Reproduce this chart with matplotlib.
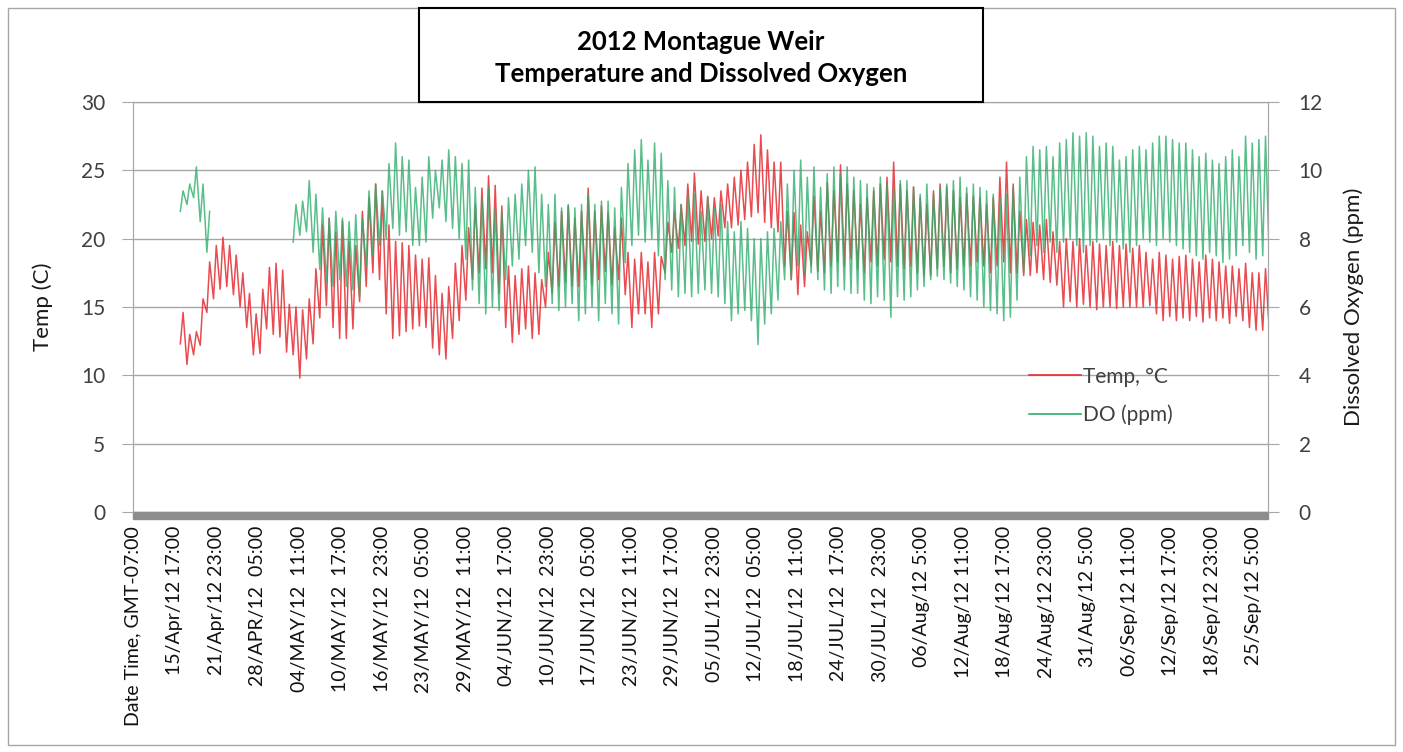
import numpy as np
import matplotlib
matplotlib.use('Agg')
import matplotlib.pyplot as plt
from matplotlib.patches import Rectangle

# daily highs / lows, day 0 = 15/Apr/12 (one value per day)
temp_high = [
    14.6, 13.0, 13.2, 15.6, 18.3, 19.5, 20.1, 19.5, 18.8, 17.5,
    16.0, 14.5, 16.3, 17.9, 18.2, 17.7, 15.2, 15.0, 14.8, 15.6,
    17.8, 21.0, 21.5, 20.5, 21.3, 19.8, 19.5, 22.0, 23.0, 24.0,
    23.5, 21.0, 19.8, 19.7, 19.5, 18.8, 18.5, 18.6, 17.3, 16.0,
    16.5, 18.2, 19.5, 20.8, 22.5, 23.7, 24.6, 23.9, 22.4, 18.0,
    17.3, 17.8, 18.0, 17.5, 17.0, 19.0, 21.2, 22.0, 22.4, 21.5,
    22.0, 23.7, 22.0, 22.4, 21.9, 20.8, 21.5, 19.0, 18.5, 19.0,
    18.3, 19.0, 18.7, 21.2, 22.0, 22.5, 24.0, 24.8, 23.5, 23.1,
    23.0, 23.5, 24.0, 24.5, 25.0, 25.6, 26.9, 27.6, 26.5, 25.6,
    25.6, 22.0, 21.9, 21.0, 20.5, 23.1, 22.0, 24.1, 23.5, 25.4,
    24.0, 23.5, 22.5, 23.0, 23.5, 24.0, 24.5, 25.6, 24.0, 23.5,
    23.8, 23.0, 22.5, 23.5, 24.0, 23.8, 23.5, 23.0, 23.3, 23.1,
    23.0, 22.5, 23.0, 24.5, 25.6, 24.0, 22.0, 21.4, 21.2, 21.0,
    21.4, 20.5, 19.8, 20.0, 19.8, 20.0, 19.5, 19.8, 19.6, 19.5,
    19.8, 19.5, 19.6, 19.3, 19.5, 19.0, 18.5, 19.0, 18.8, 18.5,
    18.7, 18.8, 18.5, 18.3, 18.8, 18.5, 18.3, 18.0, 18.0, 17.8,
    18.2, 17.5, 17.5, 17.8, 17.3]
temp_low = [
    12.3, 10.8, 11.5, 12.2, 14.6, 15.6, 16.3, 16.5, 15.9, 15.0,
    13.5, 11.5, 11.6, 13.4, 13.0, 12.8, 11.7, 11.5, 9.8, 11.2,
    12.3, 14.2, 15.1, 13.5, 12.7, 12.7, 13.4, 15.4, 16.5, 17.5,
    17.0, 14.5, 12.7, 12.9, 13.2, 13.4, 13.6, 13.5, 12.0, 11.5,
    11.2, 12.7, 14.0, 15.5, 17.0, 17.5, 17.8, 17.5, 16.0, 13.5,
    12.4, 13.0, 13.4, 12.7, 13.0, 15.0, 16.0, 16.5, 16.8, 16.5,
    16.5, 17.0, 16.6, 17.0, 17.6, 16.6, 17.0, 15.9, 13.5, 14.5,
    14.5, 13.5, 14.5, 17.5, 19.0, 19.3, 19.5, 19.8, 19.6, 19.8,
    20.0, 20.2, 20.8, 20.8, 21.0, 21.4, 21.6, 21.9, 21.2, 20.8,
    20.5, 18.0, 17.0, 15.9, 16.5, 18.0, 17.6, 17.5, 18.0, 18.3,
    18.0, 18.5, 17.8, 17.5, 18.3, 18.0, 18.5, 18.3, 18.0, 17.8,
    18.0, 17.5, 17.3, 17.3, 17.8, 18.0, 17.5, 17.8, 18.0, 18.0,
    18.3, 18.0, 17.5, 18.0, 18.3, 17.5, 17.5, 17.3, 17.3, 17.5,
    17.0, 16.8, 16.6, 15.0, 15.4, 15.0, 15.2, 15.0, 14.8, 15.0,
    15.0, 14.9, 15.0, 15.0, 15.0, 15.0, 15.1, 14.5, 14.0, 14.3,
    14.0, 14.2, 14.0, 14.3, 13.9, 14.2, 14.0, 14.2, 13.8, 14.3,
    14.0, 13.5, 13.3, 13.3, 13.2]
do_high = [
    9.4, 9.6, 10.1, 9.6, 8.8, None, None, None, None, None,
    None, None, None, None, None, None, None, 9.0, 9.1, 9.7,
    9.3, 8.9, 8.6, 8.8, 8.6, 8.5, 8.7, 8.6, 9.4, 9.6,
    9.4, 10.2, 10.8, 10.4, 10.3, 9.5, 9.8, 10.4, 10.0, 10.3,
    10.6, 10.4, 10.2, 10.3, 9.5, 9.2, 9.5, 8.9, 8.8, 9.2,
    9.3, 9.6, 10.0, 10.1, 9.3, 9.0, 9.3, 8.9, 9.0, 8.9,
    9.0, 9.3, 9.0, 9.1, 9.1, 8.9, 9.5, 10.2, 10.6, 10.9,
    10.3, 10.8, 10.5, 9.7, 9.5, 9.0, 9.3, 9.3, 8.8, 9.2,
    8.9, 9.0, 8.5, 8.2, 8.5, 8.3, 8.0, 8.0, 8.2, 8.3,
    8.5, 9.6, 10.0, 10.3, 9.8, 10.1, 9.5, 9.9, 10.1, 9.9,
    10.1, 9.8, 9.7, 9.6, 9.5, 9.8, 9.6, 9.5, 9.7, 9.7,
    9.5, 9.3, 9.6, 9.3, 9.5, 9.6, 9.7, 9.8, 9.5, 9.6,
    9.5, 9.4, 9.3, 9.2, 9.3, 9.5, 9.8, 10.4, 10.7, 10.6,
    10.7, 10.4, 10.8, 10.9, 11.1, 11.0, 11.1, 11.0, 10.7, 10.8,
    10.7, 10.3, 10.4, 10.6, 10.7, 10.6, 10.8, 11.0, 11.0, 10.9,
    10.8, 10.8, 10.6, 10.4, 10.5, 10.3, 10.2, 10.4, 10.6, 10.4,
    11.0, 10.8, 10.9, 11.0, 10.6]
do_low = [
    8.8, 9.0, 9.2, 8.5, 7.6, None, None, None, None, None,
    None, None, None, None, None, None, None, 7.9, 8.1, 8.2,
    7.6, 7.1, 6.7, 6.6, 6.8, 6.6, 6.5, 6.3, 7.2, 7.5,
    7.8, 8.0, 8.3, 8.1, 8.2, 7.8, 7.8, 7.9, 8.6, 8.9,
    8.5, 8.3, 8.0, 7.4, 6.5, 6.1, 5.8, 6.0, 5.9, 6.8,
    7.2, 7.4, 7.8, 7.6, 7.0, 6.6, 6.1, 5.9, 6.0, 6.1,
    5.6, 5.8, 6.0, 5.6, 6.1, 5.8, 5.5, 7.3, 7.8, 8.1,
    7.9, 8.0, 7.5, 6.8, 6.5, 6.3, 6.4, 6.3, 6.4, 6.5,
    6.4, 6.3, 6.1, 5.6, 5.8, 5.9, 5.6, 4.9, 5.5, 5.8,
    6.2, 6.8, 6.8, 7.2, 7.0, 7.0, 6.8, 6.5, 6.4, 6.6,
    6.5, 6.4, 6.4, 6.2, 6.1, 6.3, 6.2, 5.7, 6.3, 6.2,
    6.3, 6.5, 6.6, 6.8, 6.9, 6.8, 6.7, 6.6, 6.5, 6.3,
    6.2, 6.0, 5.9, 5.8, 5.6, 5.7, 6.2, 7.0, 7.5, 7.8,
    7.6, 7.9, 7.6, 7.9, 8.0, 7.8, 7.6, 7.8, 7.9, 8.0,
    7.8, 7.9, 7.7, 7.6, 7.8, 8.0, 7.9, 7.8, 8.0, 7.9,
    7.8, 7.7, 7.6, 7.5, 7.4, 7.6, 7.5, 7.3, 7.4, 7.5,
    7.8, 7.6, 7.4, 7.5, 7.3]

tick_labels = [
    'Date Time, GMT-07:00', '15/Apr/12 17:00', '21/Apr/12 23:00',
    '28/APR/12  05:00', '04/MAY/12  11:00', '10/MAY/12  17:00',
    '16/MAY/12  23:00', '23/MAY/12  05:00', '29/MAY/12  11:00',
    '04/JUN/12  17:00', '10/JUN/12  23:00', '17/JUN/12  05:00',
    '23/JUN/12  11:00', '29/JUN/12  17:00', '05/JUL/12  23:00',
    '12/JUL/12  05:00', '18/JUL/12  11:00', '24/JUL/12  17:00',
    '30/JUL/12  23:00', '06/Aug/12 5:00', '12/Aug/12 11:00',
    '18/Aug/12 17:00', '24/Aug/12 23:00', '31/Aug/12 5:00',
    '06/Sep/12 11:00', '12/Sep/12 17:00', '18/Sep/12 23:00',
    '25/Sep/12 5:00']

# category axis in hourly rows, a label every 150 rows
rows_per_label = 150
first_row = 166
n_rows = 4102

plt.rcParams['font.family'] = ['Lato', 'DejaVu Sans']

def zigzag(low, high):
    low = np.array([np.nan if v is None else v for v in low], dtype=float)
    high = np.array([np.nan if v is None else v for v in high], dtype=float)
    days = np.arange(len(low))
    x = np.column_stack([first_row + 24 * days + 5, first_row + 24 * days + 15]).ravel()
    y = np.column_stack([low, high]).ravel()
    return x, y

x_t, y_t = zigzag(temp_low, temp_high)
x_d, y_d = zigzag(do_low, do_high)

fig = plt.figure(figsize=(14.03, 7.52), dpi=100)
ax = fig.add_axes([133 / 1403, 1 - 512 / 752, (1268 - 133) / 1403, 410 / 752])
ax2 = ax.twinx()

red = '#e52d33'
green = '#2fae6c'
ln1, = ax.plot(x_t, y_t, color=red, lw=1.1, alpha=0.85, label='Temp, °C')
ln2, = ax2.plot(x_d, y_d, color=green, lw=1.1, alpha=0.8, label='DO (ppm)')

ax.set_xlim(0, n_rows)
ax.set_ylim(0, 30)
ax2.set_ylim(0, 12)
ax.set_yticks(np.arange(0, 31, 5))
ax2.set_yticks(np.arange(0, 13, 2))
ax.yaxis.grid(True, color='#a6a6a6', lw=1)
ax.set_axisbelow(True)

ax.set_xticks(np.arange(len(tick_labels)) * rows_per_label)
ax.set_xticklabels(tick_labels, rotation=90, va='top', ha='center', fontsize=14, color='#111111')
ax.tick_params(axis='x', length=0, pad=10)
ax.tick_params(axis='y', colors='#a6a6a6', labelcolor='#404040', labelsize=15, length=8, pad=12)
ax2.tick_params(axis='y', colors='#a6a6a6', labelcolor='#404040', labelsize=15, length=8, pad=14)

for a in (ax, ax2):
    for s in ('left', 'right', 'top'):
        a.spines[s].set_color('#a6a6a6')
    a.spines['bottom'].set_visible(False)

# thick grey floor under the plot
ax.add_patch(Rectangle((0, -0.018), 1, 0.018, transform=ax.transAxes,
                       color='#8c8c8c', clip_on=False, zorder=5))

ax.set_ylabel('Temp (C)', fontsize=16, color='#1a1a1a', labelpad=20)
ax2.set_ylabel('Dissolved Oxygen (ppm)', fontsize=16, color='#1a1a1a', labelpad=15)

leg = ax2.legend(handles=[ln1, ln2], loc='upper left', bbox_to_anchor=(0.773, 0.40),
                 frameon=False, fontsize=15, handlelength=2.5, labelspacing=0.85,
                 handletextpad=0.1)
for t in leg.get_texts():
    t.set_color('#404040')
for h in leg.legend_handles:
    h.set_alpha(1)
    h.set_linewidth(1.2)

# outer chart border and title box
fig.add_artist(Rectangle((8 / 1403, 7 / 752), 1387 / 1403, 737 / 752, transform=fig.transFigure,
                         fill=False, edgecolor='#a6a6a6', lw=1))
fig.add_artist(Rectangle((419 / 1403, 1 - 102 / 752), 564 / 1403, 94 / 752, transform=fig.transFigure,
                         facecolor='white', edgecolor='black', lw=1.5, zorder=10))
fig.text(701 / 1403, 1 - 58 / 752, '2012 Montague Weir\nTemperature and Dissolved Oxygen',
         ha='center', va='center', fontsize=18.5, fontweight='bold', linespacing=1.4, zorder=11)

fig.savefig('out.png', dpi=100)
